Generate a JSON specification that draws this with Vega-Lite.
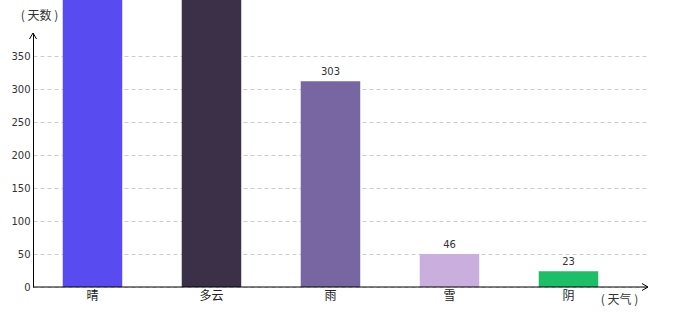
{
  "$schema": "https://vega.github.io/schema/vega-lite/v6.json",
  "width": 615,
  "height": 254,
  "autosize": "none",
  "padding": {"left": 33, "top": 33, "right": 32, "bottom": 33},
  "background": "white",
  "config": {"view": {"stroke": null}, "font": "DejaVu Sans"},
  "layer": [
    {
      "data": {"values": [
        {"weather": "晴", "days": 440, "label": ""},
        {"weather": "多云", "days": 440, "label": ""},
        {"weather": "雨", "days": 312, "label": "303"},
        {"weather": "雪", "days": 50, "label": "46"},
        {"weather": "阴", "days": 24, "label": "23"}
      ]},
      "encoding": {
        "x": {"field": "weather", "type": "nominal", "sort": null,
          "scale": {"paddingInner": 0.5, "paddingOuter": 0.334, "align": 0.374},
          "axis": {"title": "( 天气 )", "titleX": 586, "titleY": 12, "titleBaseline": "middle", "titleAlign": "center",
            "titleFont": "Noto Sans CJK SC", "titleFontSize": 12, "titleFontWeight": "normal", "titleColor": "#333",
            "labelAngle": 0, "labelFont": "Noto Sans CJK SC", "labelFontSize": 12, "labelColor": "#222", "labelPadding": 3,
            "ticks": false, "domain": false}},
        "y": {"field": "days", "type": "quantitative",
          "scale": {"domain": [0, 385], "nice": false},
          "axis": {"values": [0, 50, 100, 150, 200, 250, 300, 350], "title": "( 天数 )", "titleAngle": 0,
            "titleX": 6, "titleY": -18, "titleAlign": "center", "titleBaseline": "middle",
            "titleFont": "Noto Sans CJK SC", "titleFontSize": 12, "titleFontWeight": "normal", "titleColor": "#333",
            "labelFontSize": 10, "labelColor": "#333", "labelPadding": 3, "ticks": false,
            "domainColor": "#000", "domainWidth": 1,
            "grid": true, "gridDash": [4, 3], "gridColor": "#cccccc", "gridWidth": 1}}
      },
      "layer": [
        {
          "mark": {"type": "bar", "clip": false},
          "encoding": {
            "color": {"field": "weather", "type": "nominal", "sort": null, "legend": null,
              "scale": {"domain": ["晴", "多云", "雨", "雪", "阴"], "range": ["#584CF0", "#3C3049", "#7766A2", "#CAAEDD", "#1CBF68"]}}
          }
        },
        {
          "mark": {"type": "text", "baseline": "bottom", "dy": -4, "fontSize": 10, "color": "#333"},
          "encoding": {"text": {"field": "label"}}
        }
      ]
    },
    {
      "data": {"values": [{"base": 0}]},
      "mark": {"type": "rule", "color": "#000", "strokeWidth": 1},
      "encoding": {"y": {"field": "base", "type": "quantitative", "scale": {"domain": [0, 385]}, "axis": null}}
    },
    {
      "data": {"values": [
        {"ax": 0, "ay": 1, "dir": "up"},
        {"ax": 1, "ay": 0, "dir": "right"}
      ]},
      "mark": {"type": "point", "filled": false, "stroke": "#000", "strokeWidth": 1, "size": 16, "opacity": 1},
      "encoding": {
        "x": {"field": "ax", "type": "quantitative", "scale": {"domain": [0, 1], "nice": false, "zero": false}, "axis": null},
        "y": {"field": "ay", "type": "quantitative", "scale": {"domain": [0, 1], "nice": false, "zero": false}, "axis": null},
        "shape": {"field": "dir", "type": "nominal", "legend": null,
          "scale": {"domain": ["up", "right"], "range": ["M-1.75,3L0,0L1.75,3", "M-3,-1.75L0,0L-3,1.75"]}}
      }
    }
  ],
  "resolve": {"scale": {"x": "independent", "y": "independent", "color": "independent", "shape": "independent"}}
}
